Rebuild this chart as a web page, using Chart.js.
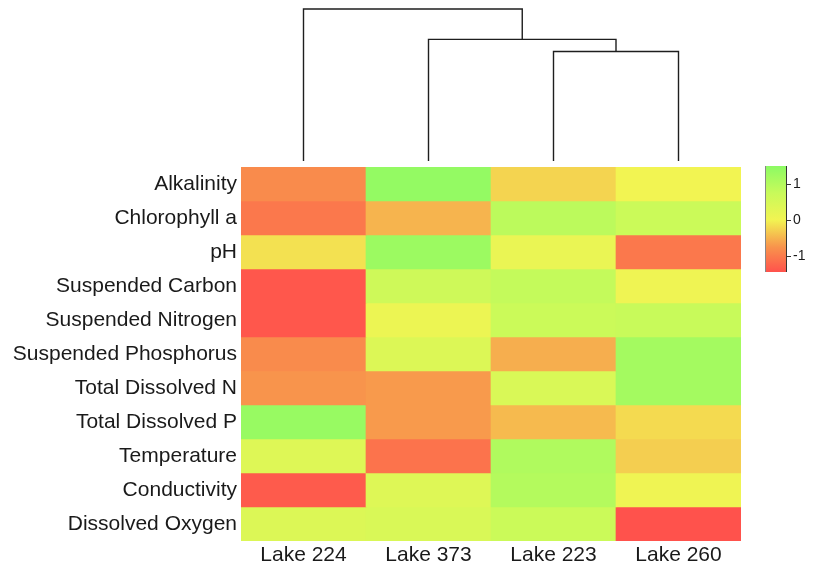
<!DOCTYPE html>
<html>
<head>
<meta charset="utf-8">
<script src="https://cdn.jsdelivr.net/npm/chart.js@4"></script>
<style>
  html, body { margin: 0; padding: 0; background: #fff; }
  #wrap { width: 814px; height: 569px; }
</style>
</head>
<body>
<div id="wrap"><canvas id="heat" width="814" height="569"></canvas></div>
<script>
// columns (already in dendrogram order)
const lakes = ['Lake 224', 'Lake 373', 'Lake 223', 'Lake 260'];
const variables = ['Alkalinity', 'Chlorophyll a', 'pH', 'Suspended Carbon', 'Suspended Nitrogen',
  'Suspended Phosphorus', 'Total Dissolved N', 'Total Dissolved P', 'Temperature', 'Conductivity', 'Dissolved Oxygen'];

// scaled values, one array per lake (row order = variables)
const lake224 = [-0.85, -1.05, -0.15, -1.40, -1.40, -0.85, -0.75, 1.35, 0.35, -1.35, 0.40];
const lake373 = [1.40, -0.50, 1.30, 0.65, 0.10, 0.40, -0.70, -0.70, -1.10, 0.35, 0.45];
const lake223 = [-0.25, 0.90, 0.15, 0.80, 0.70, -0.55, 0.45, -0.45, 1.05, 1.00, 0.70];
const lake260 = [0.00, 0.70, -1.05, 0.05, 0.75, 1.20, 1.20, -0.20, -0.30, 0.05, -1.45];
const columns = [lake224, lake373, lake223, lake260];

// dendrogram: merges like hclust (index >= 4 means earlier merge), with heights
const dendroMerges = [[2, 3], [1, 4], [0, 5]];
const dendroHeights = [3.6, 4.0, 5.0];

// colour legend
const legendMin = -1.45;
const legendMax = 1.5;
const legendTicks = [-1, 0, 1];

const colorStops = [
  [-1.45, [255, 82, 76]],
  [-0.75, [248, 148, 76]],
  [0, [242, 244, 82]],
  [0.75, [200, 250, 90]],
  [1.5, [140, 250, 100]]
];

function colorFor(v) {
  if (v <= colorStops[0][0]) return 'rgb(' + colorStops[0][1].join(',') + ')';
  for (let i = 1; i < colorStops.length; i++) {
    const [v1, c1] = colorStops[i];
    const [v0, c0] = colorStops[i - 1];
    if (v <= v1) {
      const t = (v - v0) / (v1 - v0);
      const c = c0.map((x, k) => Math.round(x + (c1[k] - x) * t));
      return 'rgb(' + c.join(',') + ')';
    }
  }
  return 'rgb(' + colorStops[colorStops.length - 1][1].join(',') + ')';
}

const datasets = variables.map((name, i) => ({
  label: name,
  data: lakes.map(() => 1),
  backgroundColor: columns.map(col => colorFor(col[i])),
  borderWidth: 0,
  barPercentage: 1,
  categoryPercentage: 1
}));

const heatExtras = {
  id: 'heatExtras',
  afterDraw(chart) {
    const ctx = chart.ctx;
    const area = chart.chartArea;
    const xs = chart.scales.x;

    // dendrogram on top
    const nodes = lakes.map((_, i) => ({ x: xs.getPixelForValue(i), h: 0 }));
    const hMax = Math.max(...dendroHeights);
    const base = area.top - 6, top = 9;
    const yOf = h => base - h / hMax * (base - top);
    ctx.save();
    ctx.strokeStyle = '#1e1e1e';
    ctx.lineWidth = 1.4;
    dendroMerges.forEach(([a, b], k) => {
      const h = dendroHeights[k];
      const A = nodes[a], B = nodes[b];
      ctx.beginPath();
      ctx.moveTo(A.x, yOf(A.h));
      ctx.lineTo(A.x, yOf(h));
      ctx.lineTo(B.x, yOf(h));
      ctx.lineTo(B.x, yOf(B.h));
      ctx.stroke();
      nodes.push({ x: (A.x + B.x) / 2, h: h });
    });

    // colour bar
    const bx = area.right + 24, bw = 22, by = area.top - 1, bh = 106;
    const grad = ctx.createLinearGradient(0, by + bh, 0, by);
    colorStops.forEach(([v, c]) => {
      const t = Math.min(1, Math.max(0, (v - legendMin) / (legendMax - legendMin)));
      grad.addColorStop(t, 'rgb(' + c.join(',') + ')');
    });
    ctx.fillStyle = grad;
    ctx.fillRect(bx, by, bw, bh);
    ctx.strokeStyle = '#888';
    ctx.lineWidth = 1;
    ctx.beginPath();
    ctx.moveTo(bx + 0.5, by); ctx.lineTo(bx + 0.5, by + bh);
    ctx.stroke();
    ctx.strokeStyle = '#333';
    ctx.beginPath();
    ctx.moveTo(bx + bw - 0.5, by); ctx.lineTo(bx + bw - 0.5, by + bh);
    ctx.stroke();
    ctx.fillStyle = '#1a1a1a';
    ctx.font = '14px "Liberation Sans", Arial, sans-serif';
    ctx.textBaseline = 'middle';
    ctx.textAlign = 'left';
    legendTicks.forEach(v => {
      const y = Math.round(by + bh - (v - legendMin) / (legendMax - legendMin) * bh) + 0.5;
      ctx.beginPath();
      ctx.moveTo(bx + bw, y); ctx.lineTo(bx + bw + 4, y);
      ctx.stroke();
      ctx.fillText(v < 0 ? '-' + Math.abs(v) : String(v), bx + bw + 6, y);
    });
    ctx.restore();
  }
};

new Chart(document.getElementById('heat').getContext('2d'), {
  type: 'bar',
  data: { labels: lakes, datasets: datasets },
  plugins: [heatExtras],
  options: {
    responsive: false,
    animation: false,
    layout: { padding: { top: 167, right: 73, bottom: 0, left: 0 } },
    plugins: { legend: { display: false }, tooltip: { enabled: false } },
    scales: {
      x: {
        stacked: true,
        grid: { display: false, drawTicks: false },
        border: { display: false },
        ticks: { color: '#1a1a1a', padding: 2, font: { family: '"Liberation Sans", Arial, sans-serif', size: 21 } },
        afterFit: s => { s.height = 28; }
      },
      y: {
        stacked: true,
        reverse: true,
        min: 0,
        max: variables.length,
        grid: { display: false, drawTicks: false },
        border: { display: false },
        afterBuildTicks: s => { s.ticks = variables.map((_, i) => ({ value: i + 0.5 })); },
        ticks: {
          autoSkip: false,
          color: '#1a1a1a',
          padding: 4,
          font: { family: '"Liberation Sans", Arial, sans-serif', size: 21 },
          callback: (val, idx) => variables[idx]
        },
        afterFit: s => { s.width = 241; }
      }
    }
  }
});
</script>
</body>
</html>
